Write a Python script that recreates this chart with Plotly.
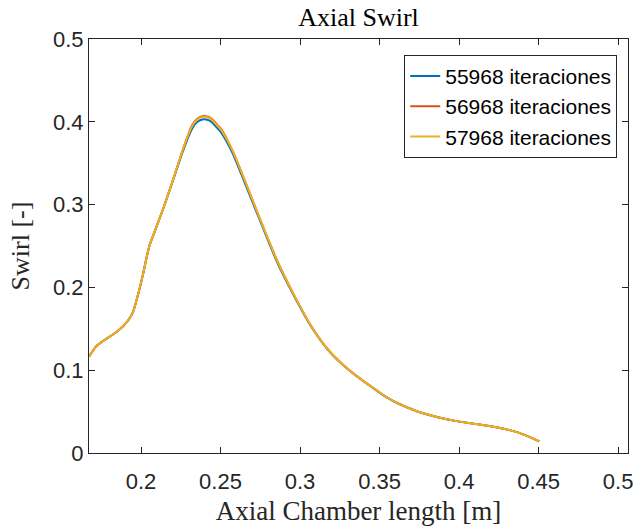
import plotly.graph_objects as go

# Axial position [m]
x_pos = [0.1675, 0.1719, 0.1771, 0.1854, 0.1916, 0.1948, 0.1979, 0.2010, 0.2052, 0.2083,
         0.2145, 0.2208, 0.2259, 0.2290, 0.2322, 0.2355, 0.2395, 0.2435, 0.2468, 0.2500,
         0.2530, 0.2571, 0.2592, 0.2655, 0.2758, 0.2862, 0.2966, 0.3070, 0.3174, 0.3278,
         0.3382, 0.3486, 0.3548, 0.3610, 0.3735, 0.3860, 0.3984, 0.4109, 0.4234, 0.4358,
         0.4441, 0.4504]

swirl_55968 = [0.117, 0.129, 0.1365, 0.1474, 0.1594, 0.1695, 0.1895, 0.2136, 0.2498, 0.2659,
               0.298, 0.333, 0.362, 0.378, 0.392, 0.400, 0.403, 0.401, 0.395, 0.388,
               0.379, 0.364, 0.355, 0.325, 0.276, 0.228, 0.1885, 0.1528, 0.1250, 0.1050,
               0.0890, 0.0748, 0.0668, 0.0604, 0.0505, 0.0435, 0.0385, 0.0350, 0.0310, 0.0255,
               0.0195, 0.0140]

swirl_56968 = [0.117, 0.129, 0.1365, 0.1474, 0.1594, 0.1695, 0.1895, 0.2136, 0.2498, 0.2659,
               0.298, 0.334, 0.364, 0.381, 0.396, 0.404, 0.407, 0.405, 0.399, 0.392,
               0.383, 0.367, 0.358, 0.328, 0.278, 0.2298, 0.1895, 0.1534, 0.1253, 0.1052,
               0.0892, 0.0750, 0.0670, 0.0605, 0.0505, 0.0435, 0.0385, 0.0350, 0.0310, 0.0255,
               0.0195, 0.0140]

swirl_57968 = [0.117, 0.129, 0.1365, 0.1474, 0.1594, 0.1695, 0.1895, 0.2136, 0.2498, 0.2659,
               0.298, 0.334, 0.364, 0.381, 0.395, 0.403, 0.406, 0.404, 0.398, 0.391,
               0.382, 0.367, 0.358, 0.328, 0.278, 0.2298, 0.1895, 0.1534, 0.1253, 0.1052,
               0.0892, 0.0750, 0.0670, 0.0605, 0.0505, 0.0435, 0.0385, 0.0350, 0.0310, 0.0255,
               0.0195, 0.0140]

series_names = ["55968 iteraciones", "56968 iteraciones", "57968 iteraciones"]
series_colors = ["#0072BD", "#D95319", "#EDB120"]

x_ticks = [0.2, 0.25, 0.3, 0.35, 0.4, 0.45, 0.5]
x_tick_labels = ["0.2", "0.25", "0.3", "0.35", "0.4", "0.45", "0.5"]
y_ticks = [0, 0.1, 0.2, 0.3, 0.4, 0.5]
y_tick_labels = ["0", "0.1", "0.2", "0.3", "0.4", "0.5"]

AX = "#262626"
SERIF = "Liberation Serif, Times New Roman, serif"
SANS = "Liberation Sans, Arial, Helvetica, sans-serif"

fig = go.Figure()
for name, ys, col in zip(series_names, [swirl_55968, swirl_56968, swirl_57968], series_colors):
    fig.add_trace(go.Scatter(x=x_pos, y=ys, mode="lines", name=name,
                             line=dict(color=col, width=2, shape="spline", smoothing=0.8)))

axis_common = dict(showgrid=False, zeroline=False, showline=True, linecolor=AX, linewidth=1,
                   mirror="allticks", ticks="inside", ticklen=6, tickcolor=AX, tickwidth=1,
                   tickfont=dict(family=SANS, size=22, color=AX))

fig.update_layout(
    width=640, height=527,
    margin=dict(l=89, r=7, t=39, b=72),
    paper_bgcolor="white", plot_bgcolor="white",
    title=dict(text="Axial Swirl", font=dict(family=SERIF, size=26, color="black"),
               x=0.5, xref="paper", xanchor="center",
               y=1 - 17 / 527, yref="container", yanchor="middle"),
    xaxis=dict(range=[0.1673, 0.5062], tickvals=x_ticks, ticktext=x_tick_labels,
               ticklabelstandoff=9,
               title=dict(text="Axial Chamber length [m]", font=dict(family=SERIF, size=27, color=AX),
                          standoff=7),
               **axis_common),
    yaxis=dict(range=[0, 0.5], tickvals=y_ticks, ticktext=y_tick_labels, ticklabelstandoff=0,
               title=dict(text="Swirl [-]", font=dict(family=SERIF, size=26, color=AX), standoff=15),
               **axis_common),
    legend=dict(x=0.98, y=0.962, xanchor="right", yanchor="top",
                bgcolor="white", bordercolor=AX, borderwidth=1,
                font=dict(family=SANS, size=21, color="black"),
                tracegroupgap=0, itemwidth=30),
    showlegend=True,
)

fig.write_html("out.html", config={"displayModeBar": False},
               post_script="document.body.style.margin='0px';")
